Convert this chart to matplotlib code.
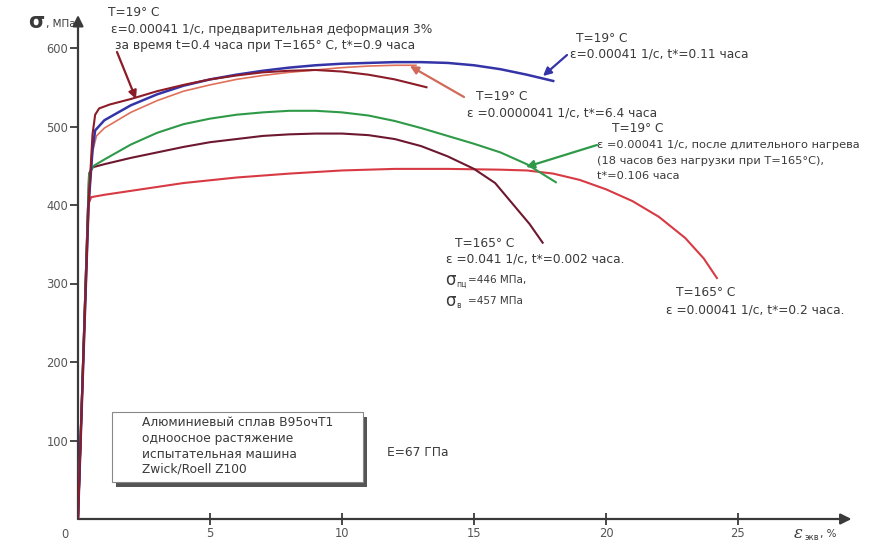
import matplotlib
matplotlib.use("Agg")
import matplotlib.pyplot as plt
from matplotlib.patches import Rectangle, FancyArrowPatch

plt.rcParams['font.family'] = ['DejaVu Sans']

# ---- data (strain %, stress MPa) ----
blue_x = [0, 0.4, 0.55, 0.65, 1.0, 2.0, 3.0, 4.0, 5.0, 6.0, 7.0, 8.0, 9.0, 10.0, 11.0, 12.0, 13.0, 14.0, 15.0, 16.0, 17.0, 18.0]
blue_y = [0, 400, 470, 495, 508, 527, 541, 552, 560, 566, 571, 575, 578, 580, 581, 582, 582, 581, 578, 573, 566, 558]

lred_x = [0, 0.4, 0.55, 0.7, 1, 2, 3, 4, 5, 6, 7, 8, 9, 10, 11, 12, 12.8]
lred_y = [0, 400, 468, 488, 498, 518, 533, 545, 553, 560, 565, 569, 572, 575, 577, 578, 578]

pre_x = [0, 0.4, 0.55, 0.65, 0.8, 1.2, 2, 3, 4, 5, 6, 7, 8, 9, 10, 11, 12, 13.2]
pre_y = [0, 400, 490, 515, 523, 528, 535, 545, 553, 560, 565, 569, 571, 572, 570, 566, 560, 550]

green_x = [0, 0.42, 0.6, 1, 2, 3, 4, 5, 6, 7, 8, 9, 10, 11, 12, 13, 14, 15, 16, 17, 18.1]
green_y = [0, 440, 450, 458, 477, 492, 503, 510, 515, 518, 520, 520, 518, 514, 507, 498, 488, 478, 467, 452, 429]

brown_x = [0, 0.42, 0.55, 1, 2, 3, 4, 5, 6, 7, 8, 9, 10, 11, 12, 13, 14, 15, 15.8, 16.5, 17.1, 17.6]
brown_y = [0, 440, 448, 452, 460, 467, 474, 480, 484, 488, 490, 491, 491, 489, 484, 475, 462, 446, 428, 400, 376, 352]

red_x = [0, 0.38, 0.5, 1, 2, 4, 6, 8, 10, 12, 14, 16, 17, 18, 19, 20, 21, 22, 23, 23.7, 24.2]
red_y = [0, 400, 410, 413, 418, 428, 435, 440, 444, 446, 446, 445, 444, 440, 432, 420, 405, 385, 358, 332, 307]

x_ticks = [5, 10, 15, 20, 25]
y_ticks = [100, 200, 300, 400, 500, 600]

W, H = 879, 544
fig = plt.figure(figsize=(W / 100, H / 100), dpi=100)
fig.patch.set_facecolor('white')

# axes: x=0 at px 78, y=0 at px 519
x0p, y0p = 78, 519
pxx, pxy = 26.4, 0.785
xmax, ymax = 29.6, 650
ax = fig.add_axes([x0p / W, (H - y0p) / H, xmax * pxx / W, ymax * pxy / H])
ax.set_xlim(0, xmax)
ax.set_ylim(0, ymax)
for s in ax.spines.values():
    s.set_visible(False)

axis_col = '#3a3a3a'
ax.annotate('', xy=(29.3, 0), xytext=(0, 0), xycoords='data',
            arrowprops=dict(arrowstyle='-|>', color=axis_col, lw=1.6, mutation_scale=16,
                            shrinkA=0, shrinkB=0), annotation_clip=False)
ax.annotate('', xy=(0, 642), xytext=(0, 0), xycoords='data',
            arrowprops=dict(arrowstyle='-|>', color=axis_col, lw=1.6, mutation_scale=16,
                            shrinkA=0, shrinkB=0), annotation_clip=False)

ax.set_xticks(x_ticks)
ax.set_yticks(y_ticks)
ax.tick_params(axis='x', direction='inout', length=8, width=1.3, color=axis_col,
               labelsize=8.3, labelcolor='#555555', pad=2)
ax.tick_params(axis='y', direction='out', length=6, width=1.3, color=axis_col,
               labelsize=8.3, labelcolor='#555555', pad=1)
ax.text(-0.35, -12, '0', ha='right', va='top', fontsize=8.3, color='#555555')

lw = 1.5
ax.plot(red_x, red_y, color='#d83a44', lw=lw, zorder=3)
ax.plot(brown_x, brown_y, color='#6e1830', lw=lw, zorder=3)
ax.plot(green_x, green_y, color='#2e9a48', lw=lw, zorder=3)
ax.plot(lred_x, lred_y, color='#e0705a', lw=1.2, zorder=3)
ax.plot(blue_x, blue_y, color='#3434a8', lw=lw + 0.3, zorder=4)
ax.plot(pre_x, pre_y, color='#8c1c28', lw=lw, zorder=5)


def fp(x, y):
    return (x / W, 1 - y / H)


tc = '#3a3a3a'
fs = 8.8


def txt(x, y, s, size=fs, **kw):
    fig.text(*fp(x, y), s, fontsize=size, color=tc, ha='left', va='center', **kw)


def arrow(x1, y1, x2, y2, col):
    fig.add_artist(FancyArrowPatch(
        fp(x1, y1), fp(x2, y2), transform=fig.transFigure,
        arrowstyle='-|>', mutation_scale=12, color=col, lw=1.6, shrinkA=0, shrinkB=0))


# y axis label
txt(28, 22, 'σ', size=15, fontweight='bold')
txt(46, 24, ', МПа', size=7.5)
# x axis label
txt(794, 533, 'ε', size=12, style='italic', family='DejaVu Serif')
txt(805, 538, 'экв', size=6)
txt(820, 534, ', %', size=7.5)

# annotation 1 (prestrain)
txt(108, 13, 'T=19° C')
txt(111, 29, 'ε=0.00041 1/с, предварительная деформация 3%')
txt(115, 45, 'за время t=0.4 часа при T=165° C, t*=0.9 часа')
arrow(117, 52, 136, 99, '#8c1c28')

# annotation 2 (blue)
txt(576, 38, 'T=19° C')
txt(570, 54, 'ε=0.00041 1/с, t*=0.11 часа')
arrow(567, 55, 543, 76, '#3434a8')

# annotation 3 (light red)
txt(476, 97, 'T=19° C')
txt(467, 113, 'ε =0.0000041 1/с, t*=6.4 часа')
arrow(464, 97, 410, 66, '#d06a5a')

# annotation 4 (green)
txt(612, 129, 'T=19° C')
txt(597, 145, 'ε =0.00041 1/с, после длительного нагрева', size=8.2)
txt(597, 161, '(18 часов без нагрузки при T=165°C),', size=8.2)
txt(597, 176, 't*=0.106 часа', size=8.2)
arrow(597, 145, 526, 167, '#2e9a48')

# annotation 5 (brown)
txt(455, 243, 'T=165° C')
txt(446, 259, 'ε =0.041 1/с, t*=0.002 часа.')
txt(445, 280, 'σ', size=12)
txt(456, 284, 'пц', size=5.5)
txt(468, 280, '=446 МПа,', size=7.5)
txt(445, 301, 'σ', size=12)
txt(456, 305, 'в', size=5.5)
txt(468, 301, '=457 МПа', size=7.5)

# annotation 6 (red)
txt(676, 293, 'T=165° C')
txt(666, 310, 'ε =0.00041 1/с, t*=0.2 часа.')

# info box with shadow
bx, by, bw, bh = 112, 412, 251, 70
fig.add_artist(Rectangle(fp(bx + 4, by + bh + 5), bw / W, bh / H, transform=fig.transFigure,
                         facecolor='#555555', edgecolor='none', zorder=5))
fig.add_artist(Rectangle(fp(bx, by + bh), bw / W, bh / H, transform=fig.transFigure,
                         facecolor='white', edgecolor='#888888', lw=0.8, zorder=6))
for i, line in enumerate(['Алюминиевый сплав В95очТ1', 'одноосное растяжение',
                          'испытательная машина', 'Zwick/Roell Z100']):
    fig.text(*fp(142, 423 + i * 15.5), line, fontsize=fs, color=tc, ha='left', va='center', zorder=7)

txt(387, 452, 'E=67 ГПа')

fig.savefig('out.png', dpi=100)
